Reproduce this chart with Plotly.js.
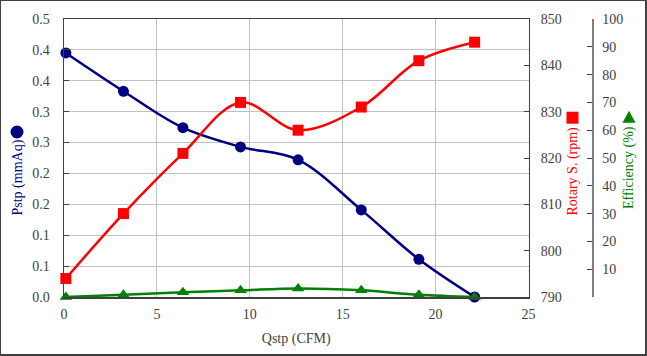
<!DOCTYPE html>
<html>
<head>
<meta charset="utf-8">
<script src="https://cdn.plot.ly/plotly-3.0.1.min.js"></script>
<style>
  html, body { margin: 0; padding: 0; background: #fff; }
  #wrap { position: relative; width: 647px; height: 356px; }
  #chart { position: absolute; left: 0; top: 0; width: 647px; height: 356px; }
  #frame { position: absolute; left: 0; top: 0; width: 647px; height: 356px; box-sizing: border-box;
           border-left: 1px solid #404040; border-top: 1px solid #404040;
           border-right: 2px solid #404040; border-bottom: 2px solid #404040; pointer-events: none; }
</style>
</head>
<body>
<div id="wrap"><div id="chart"></div><div id="frame"></div></div>
<script>
// ---- data ----
const qstp       = [0.1, 3.2, 6.4, 9.5, 12.6, 16.0, 19.1, 22.1];
const pstp       = [0.395, 0.333, 0.274, 0.243, 0.222, 0.141, 0.061, 0.0];
const rotaryS    = [794, 808, 821, 832, 826, 831, 841, 845];
const efficiency = [0.0, 0.8, 1.7, 2.4, 3.1, 2.4, 0.8, 0.0];

const pstpTickVals = [0, 0.05, 0.1, 0.15, 0.2, 0.25, 0.3, 0.35, 0.4, 0.45];
const pstpTickText = ['0.0','0.1','0.1','0.2','0.2','0.3','0.3','0.4','0.4','0.5'];
const effTickVals  = [0,10,20,30,40,50,60,70,80,90,100];
const effTickText  = ['','10','20','30','40','50','60','70','80','90','100'];

const FONT = 'Liberation Serif';
const NAVY = '#000080', RED = '#FF0000', GREEN = '#008000';
const TXT = '#404040';

// pixel -> paper helpers (plot area: x 64..592, y 19..297)
const L = 64, R = 55, T = 19, B = 59, W = 647, H = 356;
const PW = W - L - R, PH = H - T - B;
const px = v => (v - L) / PW;
const py = v => (H - B - v) / PH;

const traces = [
  { x: qstp, y: pstp, yaxis: 'y', type: 'scatter', mode: 'lines+markers', name: 'Pstp (mmAq)',
    line: { color: NAVY, width: 2.5, shape: 'spline', smoothing: 1 },
    marker: { symbol: 'circle', size: 11, color: NAVY }, cliponaxis: false },
  { x: qstp, y: rotaryS, yaxis: 'y2', type: 'scatter', mode: 'lines+markers', name: 'Rotary S. (rpm)',
    line: { color: RED, width: 2.5, shape: 'spline', smoothing: 1 },
    marker: { symbol: 'square', size: 11, color: RED }, cliponaxis: false },
  { x: qstp, y: efficiency, yaxis: 'y3', type: 'scatter', mode: 'lines+markers', name: 'Efficiency (%)',
    line: { color: GREEN, width: 2.5, shape: 'spline', smoothing: 1 },
    marker: { symbol: 'triangle-up', size: 11, color: GREEN }, cliponaxis: false }
];

const tickfont = { family: FONT, size: 14, color: TXT };

const layout = {
  width: W, height: H,
  margin: { l: L, r: R, t: T, b: B, pad: 0 },
  paper_bgcolor: '#ffffff', plot_bgcolor: '#ffffff',
  showlegend: false,
  font: { family: FONT, size: 14, color: TXT },
  xaxis: {
    domain: [0, 464.5 / PW], range: [0, 25], tick0: 0, dtick: 5,
    showgrid: true, gridcolor: '#c0c0c0', gridwidth: 1,
    showline: true, linecolor: '#404040', linewidth: 1.5, mirror: true,
    ticks: '', zeroline: false, tickfont: tickfont, ticklabelstandoff: 4,
    title: { text: 'Qstp (CFM)', font: { family: FONT, size: 14, color: TXT }, standoff: 12 }
  },
  yaxis: {
    range: [0, 0.45], tickvals: pstpTickVals, ticktext: pstpTickText,
    showgrid: true, gridcolor: '#c0c0c0', gridwidth: 1,
    showline: true, linecolor: '#404040', linewidth: 1.5,
    ticks: 'inside', ticklen: 5, tickcolor: '#404040', zeroline: false,
    tickfont: tickfont, ticklabelstandoff: 10
  },
  yaxis2: {
    overlaying: 'y', side: 'right', anchor: 'x',
    range: [790, 850], dtick: 10, tick0: 790,
    showgrid: false, showline: true, linecolor: '#404040', linewidth: 1.5,
    ticks: 'inside', ticklen: 5, tickcolor: '#404040', zeroline: false,
    tickfont: tickfont, ticklabelstandoff: 8
  },
  yaxis3: {
    overlaying: 'y', side: 'right', anchor: 'free', position: 1,
    range: [0, 100], tickvals: effTickVals, ticktext: effTickText,
    showgrid: false, showline: true, linecolor: '#808080', linewidth: 1.5,
    ticks: 'inside', ticklen: 5, tickcolor: '#404040', zeroline: false,
    tickfont: tickfont, ticklabelstandoff: 6
  },
  annotations: [
    { xref: 'paper', yref: 'paper', x: px(17), y: py(177.5), xanchor: 'center', yanchor: 'middle',
      text: 'Pstp (mmAq)', textangle: -90, showarrow: false, font: { family: FONT, size: 14, color: NAVY } },
    { xref: 'paper', yref: 'paper', x: px(573), y: py(171.5), xanchor: 'center', yanchor: 'middle',
      text: 'Rotary S. (rpm)', textangle: -90, showarrow: false, font: { family: FONT, size: 14, color: RED } },
    { xref: 'paper', yref: 'paper', x: px(629), y: py(168), xanchor: 'center', yanchor: 'middle',
      text: 'Efficiency (%)', textangle: -90, showarrow: false, font: { family: FONT, size: 14, color: GREEN } }
  ],
  shapes: [
    { type: 'circle', xref: 'paper', yref: 'paper', x0: px(10.5), x1: px(23.5), y0: py(138.5), y1: py(125.5),
      fillcolor: NAVY, line: { width: 0 } },
    { type: 'rect', xref: 'paper', yref: 'paper', x0: px(566.5), x1: px(578.5), y0: py(123.7), y1: py(111.7),
      fillcolor: RED, line: { width: 0 } },
    { type: 'path', xref: 'paper', yref: 'paper',
      path: 'M ' + px(622.5) + ' ' + py(122.7) + ' L ' + px(635.5) + ' ' + py(122.7) + ' L ' + px(629) + ' ' + py(110.7) + ' Z',
      fillcolor: GREEN, line: { width: 0 } }
  ]
};

Plotly.newPlot('chart', traces, layout, { displayModeBar: false, staticPlot: true });
</script>
</body>
</html>
